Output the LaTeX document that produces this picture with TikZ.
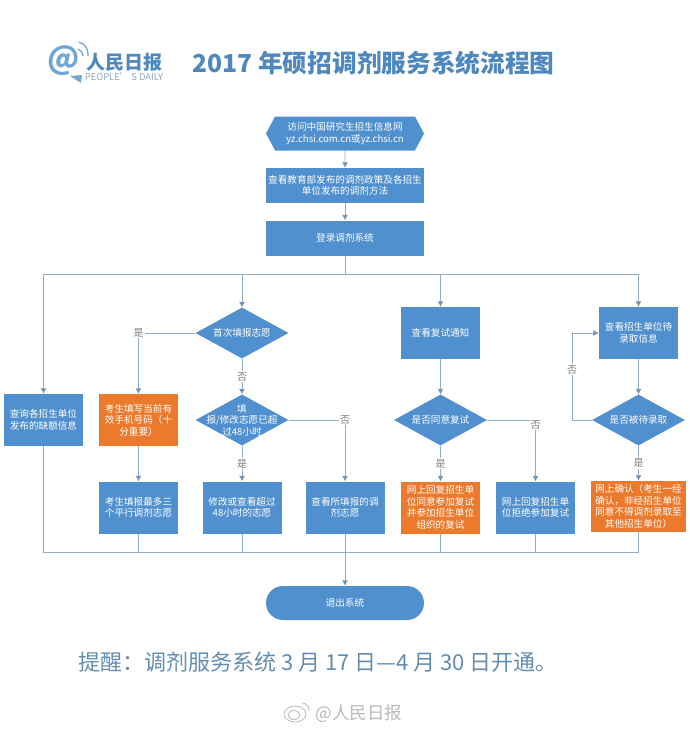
\documentclass[tikz,border=0pt]{standalone}
\usepackage{fontspec}
\setmainfont{Noto Sans CJK SC}
\usetikzlibrary{shapes, shapes.geometric, shapes.symbols, shapes.misc, arrows.meta}
\definecolor{flowblue}{HTML}{5090CE}
\definecolor{floworange}{HTML}{EC7A2D}
\definecolor{flowline}{HTML}{8FADC6}
\definecolor{flowtip}{HTML}{6C93B8}
\definecolor{titleblue}{HTML}{4F88BF}
\definecolor{logoblue}{HTML}{72A6D2}
\definecolor{logogrey}{HTML}{8FA6BC}
\newcommand{\overtext}[1]{\makebox[0pt]{\raisebox{-4pt}[0pt][0pt]{\begin{tabular}{@{}c@{}}#1\end{tabular}}}}

\begin{document}
\begin{tikzpicture}[
                    x=1pt, y=1pt,
                    boxfont/.style={font=\fontsize{9.6}{11.6}\selectfont},
                    block/.style={rectangle, fill=flowblue, text=white, align=center, inner sep=0pt, minimum width=79pt, minimum height=52pt, boxfont},
                    wideblock/.style={block, minimum width=158pt, minimum height=35pt},
                    urgent/.style={block, fill=floworange},
                    decision/.style={diamond, aspect=1.82, fill=flowblue, text=white, align=center, inner sep=0pt, minimum width=93pt, minimum height=51pt, boxfont},
                    site/.style={signal, signal to=east and west, signal pointer angle=124, fill=flowblue, text=white, align=center, inner sep=0pt, minimum width=158pt, minimum height=34pt, boxfont},
                    terminal/.style={rounded rectangle, fill=flowblue, text=white, inner sep=0pt, minimum width=158pt, minimum height=34pt, boxfont},
                    line/.style={draw=flowline, line width=0.9pt, -{Latex[length=5.5pt,width=6pt,color=flowtip]}},
                    bus/.style={draw=flowline, line width=0.9pt},
                    tag/.style={fill=white, text=gray, inner sep=1pt, font=\fontsize{10}{12}\selectfont}
                ]
                    \useasboundingbox (0,-731) rectangle (690,0);

                    % Heading
                    \node [text=logoblue, font=\fontsize{31}{31}\bfseries\selectfont] (logoat) at (64,-61) {@};
                    \node [text=titleblue, font=\fontsize{19}{20}\bfseries\selectfont] (logoname) at (124.5,-62) {人民日报};
                    \node [text=logogrey, font=\fontsize{9.4}{10}\selectfont] (logoen) at (124,-77) {PEOPLE' S DAILY};
                    \node [text=titleblue, font=\fontsize{24.7}{28}\bfseries\selectfont] (title) at (373.5,-63) {2017 年硕招调剂服务系统流程图};
                    \draw [logoblue, line width=1.3pt] (78,-49) to[bend left=35] (83,-56);
                    \draw [logoblue, line width=1.3pt] (79,-42) to[bend left=40] (88,-56);
                    \fill [logoblue] (70,-76) -- (82,-75) -- (81,-83) -- cycle;

                    \node [site] (start) at (345,-133.5) {访问中国研究生招生信息网\\yz.chsi.com.cn或yz.chsi.cn};
                    \node [wideblock, below of=start, node distance=52pt] (policy) {查看教育部发布的调剂政策及各招生\\单位发布的调剂方法};
                    \node [wideblock, below of=policy, node distance=52.5pt] (login) {登录调剂系统};
                    \coordinate [below of=login, node distance=36pt] (topbus);

                    \path [line] (start) -- (policy);
                    \path [line] (policy) -- (login);
                    \path [bus] (login) -- (topbus);

                    % Branch of first filing
                    \node [decision, below of=login, node distance=95pt, xshift=-103pt] (firstfill) {首次填报志愿};
                    \node [block, below of=firstfill, node distance=87pt, xshift=-198.5pt] (shortage) {查询各招生单位\\发布的缺额信息};
                    \node [urgent, below of=firstfill, node distance=87pt, xshift=-103.5pt] (phone) {考生填写当前有\\效手机号码（十\\分重要）};
                    \node [decision, below of=firstfill, node distance=87pt] (overdue) {\overtext{填\\报/修改志愿已超\\过48小时}};
                    \node [block, below of=phone, node distance=87.5pt] (choices) {考生填报最多三\\个平行调剂志愿};
                    \node [block, below of=overdue, node distance=87.5pt] (modify) {修改或查看超过\\48小时的志愿};
                    \node [block, below of=overdue, node distance=87.5pt, xshift=103pt] (viewlist) {查看所填报的调\\剂志愿};

                    \path [line] (topbus) -| (shortage);
                    \path [line] (topbus) -| (firstfill);
                    \path [line] (firstfill) -| node [tag, pos=0.5] {是} (phone);
                    \path [line] (firstfill) -- node [tag] {否} (overdue);
                    \path [line] (phone) -- (choices);
                    \path [line] (overdue) -- node [tag] {是} (modify);
                    \path [line] (overdue) -| node [tag, pos=0.5] {否} (viewlist);

                    % Branch of retest notice
                    \node [block, below of=login, node distance=95pt, xshift=95.5pt] (notice) {查看复试通知};
                    \node [decision, below of=notice, node distance=87pt] (agree) {是否同意复试};
                    \node [urgent, below of=agree, node distance=87.5pt] (accept) {网上回复招生单\\位同意参加复试\\并参加招生单位\\组织的复试};
                    \node [block, below of=agree, node distance=87.5pt, xshift=95pt] (refuse) {网上回复招生单\\位拒绝参加复试};

                    \path [line] (topbus) -| (notice);
                    \path [line] (notice) -- (agree);
                    \path [line] (agree) -- node [tag] {是} (accept);
                    \path [line] (agree) -| node [tag, pos=0.5, yshift=-5pt] {否} (refuse);

                    % Branch of waiting list
                    \node [block, below of=login, node distance=95pt, xshift=293.5pt] (waitinfo) {查看招生单位待\\录取信息};
                    \node [decision, below of=waitinfo, node distance=87pt] (waitcheck) {是否被待录取};
                    \node [urgent, below of=waitcheck, node distance=86.5pt, minimum width=95pt, minimum height=51pt] (confirm) {网上确认（考生一经\\确认，非经招生单位\\同意不得调剂录取至\\其他招生单位）};
                    \coordinate [left of=waitcheck, node distance=66.5pt] (loopturn);

                    \path [line] (topbus) -| (waitinfo);
                    \path [line] (waitinfo) -- (waitcheck);
                    \path [line] (waitcheck) -- node [tag] {是} (confirm);
                    \path [bus] (waitcheck) -- (loopturn);
                    \path [line] (loopturn) |- node [tag, pos=0.29] {否} (waitinfo);

                    % Exit
                    \node [terminal, below of=viewlist, node distance=95.5pt] (exit) {退出系统};
                    \coordinate [below of=viewlist, node distance=44.5pt] (lowbus);

                    \path [bus] (shortage) |- (lowbus);
                    \path [bus] (choices) |- (lowbus);
                    \path [bus] (modify) |- (lowbus);
                    \path [bus] (viewlist) -- (lowbus);
                    \path [bus] (accept) |- (lowbus);
                    \path [bus] (refuse) |- (lowbus);
                    \path [bus] (confirm) |- (lowbus);
                    \path [line] (lowbus) -- (exit);

                    % Notice and watermark
                    \node [text=logoblue!85!black, font=\fontsize{22}{26}\selectfont] (reminder) at (318,-662) {提醒：调剂服务系统 3 月 17 日—4 月 30 日开通。};
                    \node [text=gray!55, font=\fontsize{17.5}{20}\selectfont] (mark) at (359,-714) {@人民日报};
                    \draw [gray!55, line width=0.8pt] (295,-714) ellipse [x radius=11pt, y radius=8pt];
                    \draw [gray!55, line width=0.8pt] (294,-715) ellipse [x radius=6pt, y radius=4.5pt];
                    \draw [gray!55, line width=0.8pt] (302,-703) to[bend left=50] (309,-711);
                \end{tikzpicture}
\end{document}
